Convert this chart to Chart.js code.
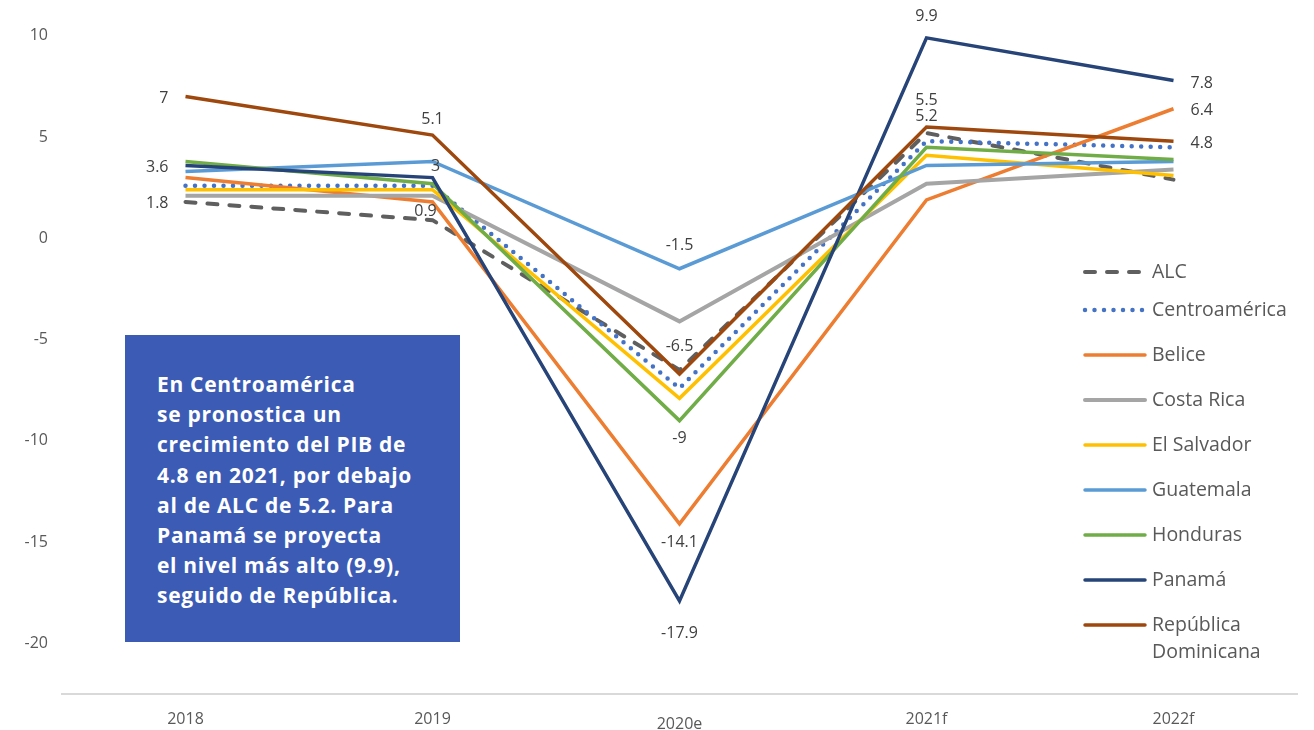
<!DOCTYPE html>
<html>
<head>
<meta charset="utf-8">
<title>Crecimiento del PIB</title>
<script src="https://cdn.jsdelivr.net/npm/chart.js@4.4.1/dist/chart.umd.min.js"></script>
<style>
  html, body { margin: 0; padding: 0; background: #fff; }
  #wrap { position: relative; width: 1314px; height: 730px; }
  #box {
    position: absolute; left: 125px; top: 335px; width: 335px; height: 307px;
    background: #3b5bb5; color: #fff; box-sizing: border-box;
    padding: 34px 0 0 32px;
    font: 700 21px "Open Sans", sans-serif; line-height: 30.2px; letter-spacing: 0.7px;
  }
</style>
</head>
<body>
<div id="wrap">
  <canvas id="chart" width="1314" height="730"></canvas>
  <div id="box">En Centroamérica<br>se pronostica un<br>crecimiento del PIB de<br>4.8 en 2021, por debajo<br>al de ALC de 5.2. Para<br>Panamá se proyecta<br>el nivel más alto (9.9),<br>seguido de República.</div>
</div>
<script>
// data
const years = ['2018', '2019', '2020e', '2021f', '2022f'];
const alc = [1.8, 0.9, -6.5, 5.2, 2.9];
const centroamerica = [2.6, 2.6, -7.4, 4.8, 4.5];
const belice = [3.0, 1.8, -14.1, 1.9, 6.4];
const costaRica = [2.1, 2.1, -4.1, 2.7, 3.4];
const elSalvador = [2.4, 2.4, -7.9, 4.1, 3.1];
const guatemala = [3.3, 3.8, -1.5, 3.6, 3.8];
const honduras = [3.8, 2.7, -9.0, 4.5, 3.9];
const panama = [3.6, 3.0, -17.9, 9.9, 7.8];
const repDominicana = [7.0, 5.1, -6.7, 5.5, 4.8];
const yTicks = [10, 5, 0, -5, -10, -15, -20];

// which points carry a value label: [series, point, side, dx, dy]
const labelSpots = [
  ['ALC', 0, 'left', 0, 2], ['ALC', 1, 'center', -7, -9], ['ALC', 2, 'center', 0, -24], ['ALC', 3, 'center', 0, -17],
  ['Panamá', 0, 'left', 0, 2], ['Panamá', 1, 'center', 3, -11], ['Panamá', 2, 'center', 0, 33], ['Panamá', 3, 'center', 0, -21], ['Panamá', 4, 'right', 0, 3],
  ['República Dominicana', 0, 'left', 0, 2], ['República Dominicana', 1, 'center', 0, -16], ['República Dominicana', 3, 'center', 0, -27], ['República Dominicana', 4, 'right', 0, 2],
  ['Guatemala', 2, 'center', 0, -23], ['Honduras', 2, 'center', 0, 18],
  ['Belice', 2, 'center', 0, 19], ['Belice', 4, 'right', 0, 2]
];

const TEXT = '#595959';
const FONT = '"Open Sans", sans-serif';

function serie(label, data, color, extra) {
  return Object.assign({
    label: label, data: data,
    borderColor: color, backgroundColor: color,
    borderWidth: 3.5, pointRadius: 0, tension: 0, fill: false
  }, extra || {});
}

const datasets = [
  serie('ALC', alc, '#5f5f5f', { borderDash: [10, 12], borderCapStyle: 'round', borderWidth: 4 }),
  serie('Centroamérica', centroamerica, '#4472c4', { borderDash: [0, 9.5], borderCapStyle: 'round', borderWidth: 4.5 }),
  serie('Belice', belice, '#ed7d31'),
  serie('Costa Rica', costaRica, '#a5a5a5', { borderWidth: 4 }),
  serie('El Salvador', elSalvador, '#ffc000'),
  serie('Guatemala', guatemala, '#5b9bd5'),
  serie('Honduras', honduras, '#70ad47'),
  serie('Panamá', panama, '#264478'),
  serie('República Dominicana', repDominicana, '#9e480e')
];
// later series drawn on top, like the spreadsheet
datasets.forEach((d, i) => { d.order = -i; });

const valueLabels = {
  id: 'valueLabels',
  afterDatasetsDraw(chart) {
    const ctx = chart.ctx;
    ctx.save();
    ctx.font = '16px ' + FONT;
    ctx.fillStyle = '#404040';
    ctx.textBaseline = 'middle';
    labelSpots.forEach(([name, idx, side, dx, dy]) => {
      const di = chart.data.datasets.findIndex(d => d.label === name);
      const pt = chart.getDatasetMeta(di).data[idx];
      const v = chart.data.datasets[di].data[idx];
      let x = pt.x + dx;
      if (side === 'left') { ctx.textAlign = 'right'; x -= 17; }
      else if (side === 'right') { ctx.textAlign = 'left'; x += 17; }
      else ctx.textAlign = 'center';
      ctx.fillText(String(v), x, pt.y + dy);
    });
    ctx.restore();
  }
};

const sideLegend = {
  id: 'sideLegend',
  afterDraw(chart) {
    const ctx = chart.ctx;
    ctx.save();
    ctx.font = '19.5px ' + FONT;
    ctx.fillStyle = TEXT;
    ctx.textBaseline = 'middle';
    ctx.textAlign = 'left';
    chart.data.datasets.forEach((d, i) => {
      const y = i === 0 ? 272 : 310 + (i - 1) * 45;
      ctx.beginPath();
      ctx.strokeStyle = d.borderColor;
      ctx.lineWidth = d.borderWidth;
      ctx.lineCap = d.borderCapStyle || 'round';
      ctx.setLineDash(d.borderDash || []);
      ctx.moveTo(1085, y);
      ctx.lineTo(1145, y);
      ctx.stroke();
      ctx.setLineDash([]);
      const words = d.label === 'República Dominicana' ? ['República', 'Dominicana'] : [d.label];
      words.forEach((w, k) => ctx.fillText(w, 1152, y + k * 27));
    });
    ctx.restore();
  }
};

new Chart(document.getElementById('chart'), {
  type: 'line',
  data: { labels: years, datasets: datasets },
  options: {
    responsive: false,
    animation: false,
    layout: { padding: { top: 5, right: 17, left: 0, bottom: 0 } },
    plugins: { legend: { display: false }, tooltip: { enabled: false } },
    scales: {
      x: {
        offset: true,
        grid: { display: false },
        border: { display: true, color: '#d9d9d9', width: 2 },
        ticks: {
          color: TEXT, padding: 8,
          // the 2020e label sits a little lower in the original
          font: ctx => ctx.index === 2 ? { family: FONT, size: 16, lineHeight: 1.85 } : { family: FONT, size: 16 }
        },
        afterFit(scale) { scale.height = 36; }
      },
      y: {
        min: -22.5, max: 11.0,
        grid: { display: false },
        border: { display: false },
        afterBuildTicks(scale) { scale.ticks = yTicks.map(v => ({ value: v })); },
        ticks: { color: TEXT, font: { family: FONT, size: 16 }, padding: 6 },
        afterFit(scale) { scale.width = 62; }
      }
    }
  },
  plugins: [valueLabels, sideLegend]
});
</script>
</body>
</html>
